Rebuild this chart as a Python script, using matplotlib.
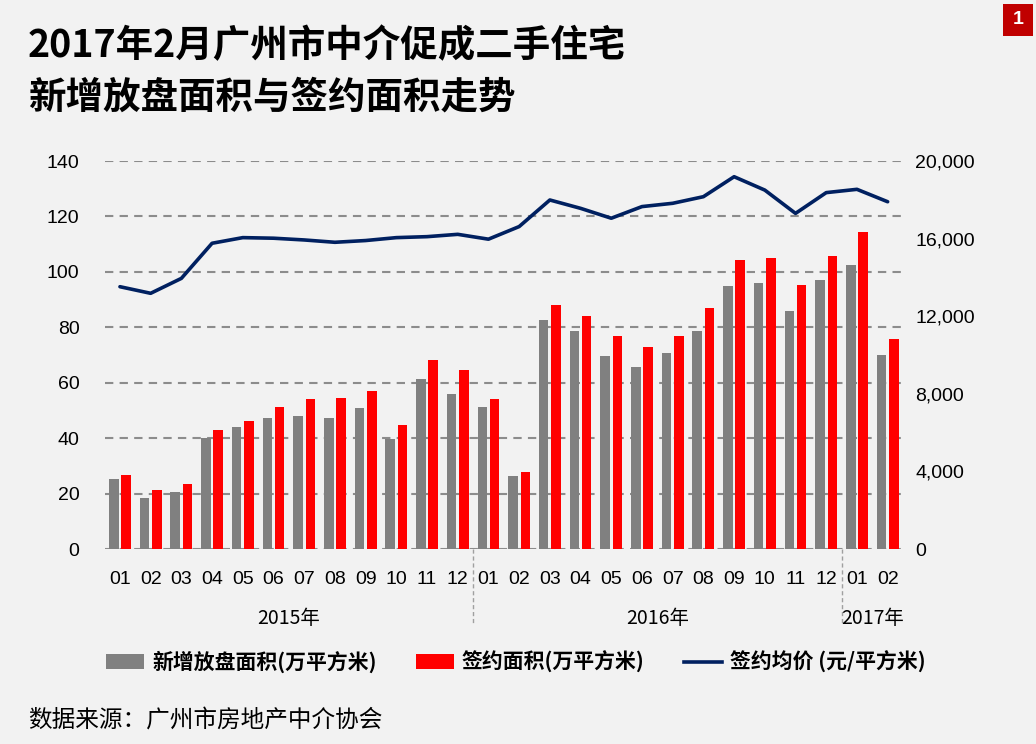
import matplotlib
matplotlib.use("Agg")
import matplotlib.pyplot as plt
import numpy as np
from matplotlib.lines import Line2D
from matplotlib.patches import Patch, Rectangle

plt.rcParams['font.family'] = ['Liberation Sans Narrow', 'Liberation Sans', 'Noto Sans CJK SC', 'DejaVu Sans']

months = ['01', '02', '03', '04', '05', '06', '07', '08', '09', '10', '11', '12',
          '01', '02', '03', '04', '05', '06', '07', '08', '09', '10', '11', '12',
          '01', '02']
years = ['2015年', '2016年', '2017年']
new_listing = [25.1, 18.3, 20.7, 40.2, 44.0, 47.4, 47.9, 47.4, 50.8, 39.7, 61.3, 55.8,
               51.2, 26.2, 82.5, 78.6, 69.6, 65.7, 70.9, 78.6, 94.8, 95.9, 85.8, 97.0,
               102.5, 70.1]
signed_area = [26.7, 21.2, 23.4, 42.9, 46.2, 51.2, 54.1, 54.5, 56.9, 44.6, 68.1, 64.6,
               54.1, 27.9, 88.0, 84.2, 77.0, 72.9, 77.0, 87.0, 104.3, 104.9, 95.3, 105.8,
               114.3, 75.8]
avg_price = [13520, 13180, 13950, 15760, 16050, 16020, 15930, 15810, 15900, 16050, 16100, 16220,
             15970, 16620, 17990, 17560, 17050, 17650, 17820, 18160, 19190, 18500, 17300, 18370,
             18540, 17900]
legend_labels = ['新增放盘面积(万平方米)', '签约面积(万平方米)', '签约均价 (元/平方米)']

W, H = 1036, 744
fig = plt.figure(figsize=(W / 100, H / 100), dpi=100)
fig.patch.set_facecolor('#f2f2f2')

cjk = ['Noto Sans CJK SC', 'DejaVu Sans']

fig.text(28 / W, 1 - 46 / H, '2017年2月广州市中介促成二手住宅', fontsize=27, fontweight='bold',
         family=cjk, va='center', ha='left', color='black')
fig.text(28 / W, 1 - 97 / H, '新增放盘面积与签约面积走势', fontsize=27, fontweight='bold',
         family=cjk, va='center', ha='left', color='black')

# red badge
fig.patches.append(Rectangle((1003 / W, 1 - 36 / H), 30 / W, 32 / H, transform=fig.transFigure,
                             facecolor='#c00000', edgecolor='none'))
fig.text(1018 / W, 1 - 20 / H, '1', fontsize=14, fontweight='bold', color='white',
         ha='center', va='center', family=['Liberation Sans', 'DejaVu Sans'])

ax = fig.add_axes([104.6 / W, 1 - 549 / H, (903 - 104.6) / W, (549 - 161) / H])
ax.set_facecolor('none')
x = np.arange(len(months))
bw = 0.31
ax.bar(x - 0.2, new_listing, width=bw, color='#808080', zorder=3)
ax.bar(x + 0.2, signed_area, width=bw, color='#ff0000', zorder=3)
ax.set_xlim(-0.5, len(months) - 0.5)
ax.set_ylim(0, 140)
ax.set_yticks(np.arange(0, 141, 20))
ax.yaxis.grid(True, linestyle=(0, (4, 3)), color='#8c8c8c', linewidth=1.5, zorder=0)
ax.set_axisbelow(True)
for s in ax.spines.values():
    s.set_visible(False)
ax.set_xticks(x)
ax.set_xticklabels(months)
ax.tick_params(axis='both', length=0, labelsize=14, colors='black')
ax.tick_params(axis='x', pad=16)
ax.tick_params(axis='y', pad=18)

ax2 = ax.twinx()
ax2.plot(x, avg_price, color='#002060', linewidth=2.6, solid_joinstyle='round',
         solid_capstyle='round', zorder=4)
ax2.set_ylim(0, 20000)
ax2.set_yticks(np.arange(0, 20001, 4000))
ax2.set_yticklabels([f'{v:,}' for v in range(0, 20001, 4000)])
for s in ax2.spines.values():
    s.set_visible(False)
ax2.tick_params(axis='y', length=0, labelsize=14, colors='black', pad=9)

# year separators and labels
trans = ax.get_xaxis_transform()
for sep in [11.5, 23.5]:
    ax.add_line(Line2D([sep, sep], [0, -0.195], transform=trans, clip_on=False,
                       color='#a0a0a0', linestyle=(0, (3, 2)), linewidth=1))
year_pos = [5.5, 17.5, 24.5]
for yp, lab in zip(year_pos, years):
    ax.text(yp, -0.178, lab, transform=trans, ha='center', va='center', fontsize=14,
            family=['Liberation Sans Narrow', 'Noto Sans CJK SC', 'DejaVu Sans'])

handles = [Patch(facecolor='#808080'), Patch(facecolor='#ff0000'),
           Line2D([0], [0], color='#002060', linewidth=2.6)]
leg = fig.legend(handles, legend_labels, loc='center', bbox_to_anchor=(516 / W, 1 - 662 / H),
                 ncol=3, frameon=False, prop={'family': cjk, 'size': 15, 'weight': 'bold'},
                 handlelength=1.8, handleheight=0.75, columnspacing=1.9, handletextpad=0.4)

fig.text(28 / W, 1 - 720 / H, '数据来源：广州市房地产中介协会', fontsize=17, family=cjk,
         va='center', ha='left', color='black')

fig.savefig('out.png', dpi=100, facecolor=fig.get_facecolor())
